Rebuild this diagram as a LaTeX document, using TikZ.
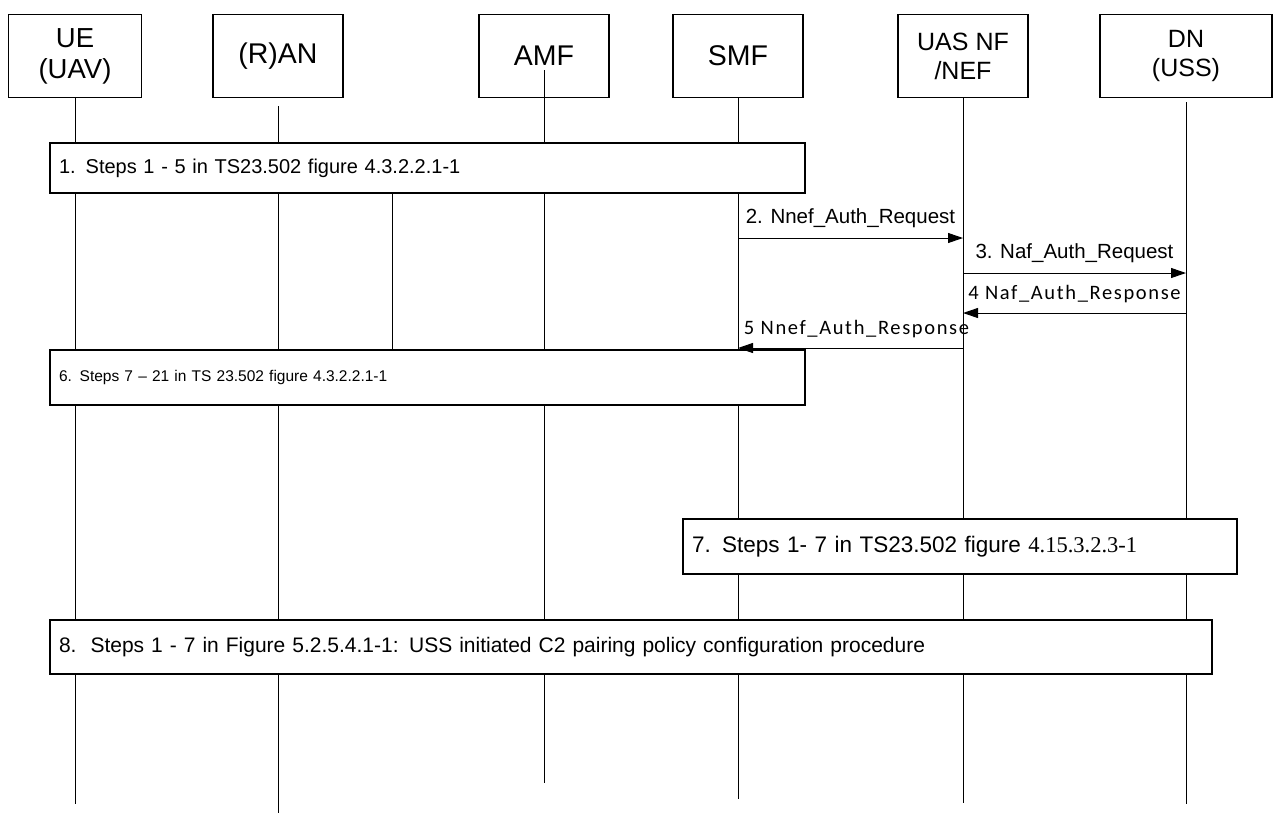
\documentclass[tikz,border=0pt]{standalone}
\usepackage{fontspec}
\setmainfont{Liberation Sans}
\newfontfamily\calfont[LetterSpace=8]{Carlito}
\newfontfamily\serfont{Liberation Serif}
\usetikzlibrary{arrows.meta}
\begin{document}
\begin{tikzpicture}[x=1pt,y=-1pt,
  entity/.style={draw,fill=white,line width=1.3pt,minimum width=130,minimum height=83,align=center,font=\fontsize{25}{29}\selectfont},
  bigentity/.style={entity,font=\fontsize{28.5}{31}\selectfont},
  lifeline/.style={line width=1pt},
  msg/.style={line width=1pt,-{Triangle[length=15pt,width=10pt]}},
  msgtext/.style={above=10pt,inner sep=0pt,font=\fontsize{20.5}{24}\selectfont},
  resptext/.style={msgtext,font=\calfont\fontsize{20.5}{24}\selectfont},
  stepbox/.style={draw,fill=white,line width=1.3pt,inner xsep=9pt,align=left}]
\useasboundingbox (0,0) rectangle (1273,812);
\node[bigentity,minimum width=133,font=\fontsize{27.5}{31}\selectfont] (UE) at (75,56) {UE\\(UAV)};
\node[bigentity] (RAN) at (278,56) {(R)AN};
\node[bigentity] (AMF) at (544,56) {AMF};
\node[bigentity] (SMF) at (738,56) {SMF};
\node[entity] (UAS) at (963,56) {UAS NF\\/NEF};
\node[entity,minimum width=172] (DN) at (1186,56) {DN\\(USS)};
\foreach \n/\s/\l in {UE/0/706,RAN/8/715,AMF/0/685,SMF/0/701,UAS/0/705,DN/4/706}
  \draw[lifeline] ([yshift=-\s pt]\n.south) -- ([yshift=-\l pt]\n.south);
\draw[lifeline] ([yshift=-14pt]AMF.center) -- (AMF.south);
\coordinate (m2) at (0,238);
\coordinate (m3) at (0,273);
\coordinate (m4) at (0,313);
\coordinate (m5) at (0,348);
\node[stepbox,text width=737,minimum height=50,font=\fontsize{20}{23}\selectfont] (s1) at (427.5,168) {1. Steps 1 - 5 in TS23.502 figure 4.3.2.2.1-1};
\node[stepbox,text width=737,minimum height=55,font=\fontsize{15.5}{18}\selectfont] (s6) at (427.5,377.5) {6. Steps 7 -- 21 in TS 23.502 figure 4.3.2.2.1-1};
\node[stepbox,text width=536,minimum height=55,font=\fontsize{22.5}{25}\selectfont] (s7) at (960,546.5) {7. Steps 1- 7 in TS23.502 figure {\serfont 4.15.3.2.3-1}};
\node[stepbox,text width=1144,minimum height=54,font=\fontsize{21}{24}\selectfont] (s8) at (631,647) {8.\ \ Steps 1 - 7 in Figure 5.2.5.4.1-1: USS initiated C2 pairing policy configuration procedure};
\coordinate (x1) at (392,193);
\draw[lifeline] (x1) -- (x1 |- s6.north);
\draw[msg] (SMF |- m2) -- node[msgtext] {2. Nnef\_Auth\_Request} (UAS |- m2);
\draw[msg] (UAS |- m3) -- node[msgtext] {3. Naf\_Auth\_Request} (DN |- m3);
\draw[msg] (DN |- m4) -- node[resptext] {4 Naf\_Auth\_Response} (UAS |- m4);
\draw[msg] (UAS |- m5) -- node[resptext,xshift=6pt] {5 Nnef\_Auth\_Response} (SMF |- m5);
\end{tikzpicture}
\end{document}
